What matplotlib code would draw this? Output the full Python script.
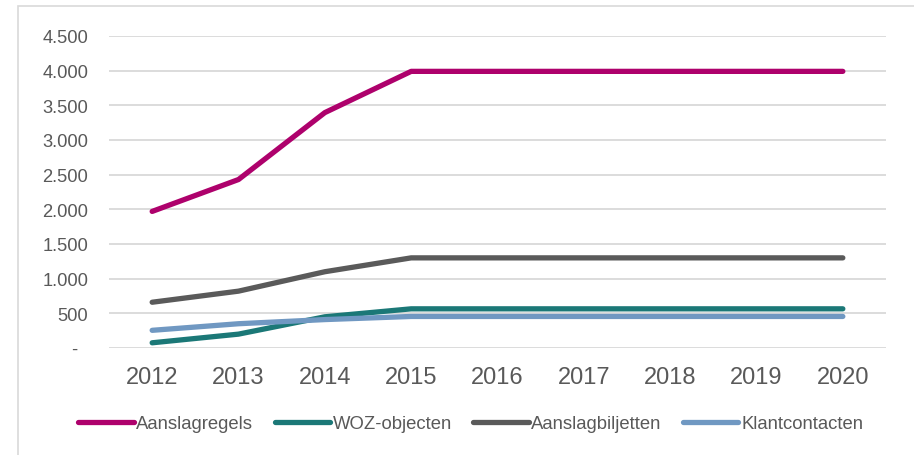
import matplotlib
matplotlib.use("Agg")
import matplotlib.pyplot as plt
from matplotlib.ticker import FuncFormatter, MultipleLocator
from matplotlib.patches import Rectangle

plt.rcParams['font.family'] = ['Liberation Sans', 'DejaVu Sans']

years = ['2012', '2013', '2014', '2015', '2016', '2017', '2018', '2019', '2020']
aanslagregels = [1970, 2430, 3395, 3990, 3990, 3990, 3990, 3990, 3990]
woz_objecten = [75, 200, 450, 565, 565, 565, 565, 565, 565]
aanslagbiljetten = [660, 820, 1100, 1300, 1300, 1300, 1300, 1300, 1300]
klantcontacten = [255, 350, 410, 455, 455, 455, 455, 455, 455]

series = [
    ('Aanslagregels', aanslagregels, '#AE016C'),
    ('WOZ-objecten', woz_objecten, '#1B7877'),
    ('Aanslagbiljetten', aanslagbiljetten, '#5A5A5A'),
    ('Klantcontacten', klantcontacten, '#7098C2'),
]

fig = plt.figure(figsize=(9.14, 4.56), dpi=100)
ax = fig.add_axes([109/914, 1 - 349/456, (886-109)/914, (349-37)/456])

x = list(range(len(years)))
for name, vals, col in series:
    ax.plot(x, vals, color=col, lw=3.8, solid_capstyle='round',
            solid_joinstyle='round', label=name, zorder=3)

ax.set_xlim(-0.5, len(years) - 0.5)
ax.set_ylim(0, 4500)
ax.yaxis.set_major_locator(MultipleLocator(500))

def fmt(v, pos):
    if v == 0:
        return '-  '
    return f"{int(v):,}".replace(',', '.')

ax.yaxis.set_major_formatter(FuncFormatter(fmt))
ax.set_xticks(x)
ax.set_xticklabels(years)
ax.grid(axis='y', color='#D9D9D9', lw=1.3, zorder=0)
for s in ax.spines.values():
    s.set_visible(False)
ax.tick_params(axis='y', length=0, pad=15, labelsize=13.2, labelcolor='#595959')
ax.tick_params(axis='x', length=0, pad=13, labelsize=17, labelcolor='#595959')

leg = fig.legend(loc='center', bbox_to_anchor=(0.515, 1 - 425/456), ncol=4,
                 frameon=False, fontsize=13.3, handlelength=3.0,
                 handletextpad=0.15, columnspacing=1.15, labelcolor='#595959')

fig.patches.append(Rectangle((18/914, -0.1), 1.2, 1 - 7/456 + 0.1,
                             transform=fig.transFigure, fill=False,
                             edgecolor='#D9D9D9', lw=1.2, zorder=0))

fig.savefig('out.png', dpi=100, facecolor='white')
